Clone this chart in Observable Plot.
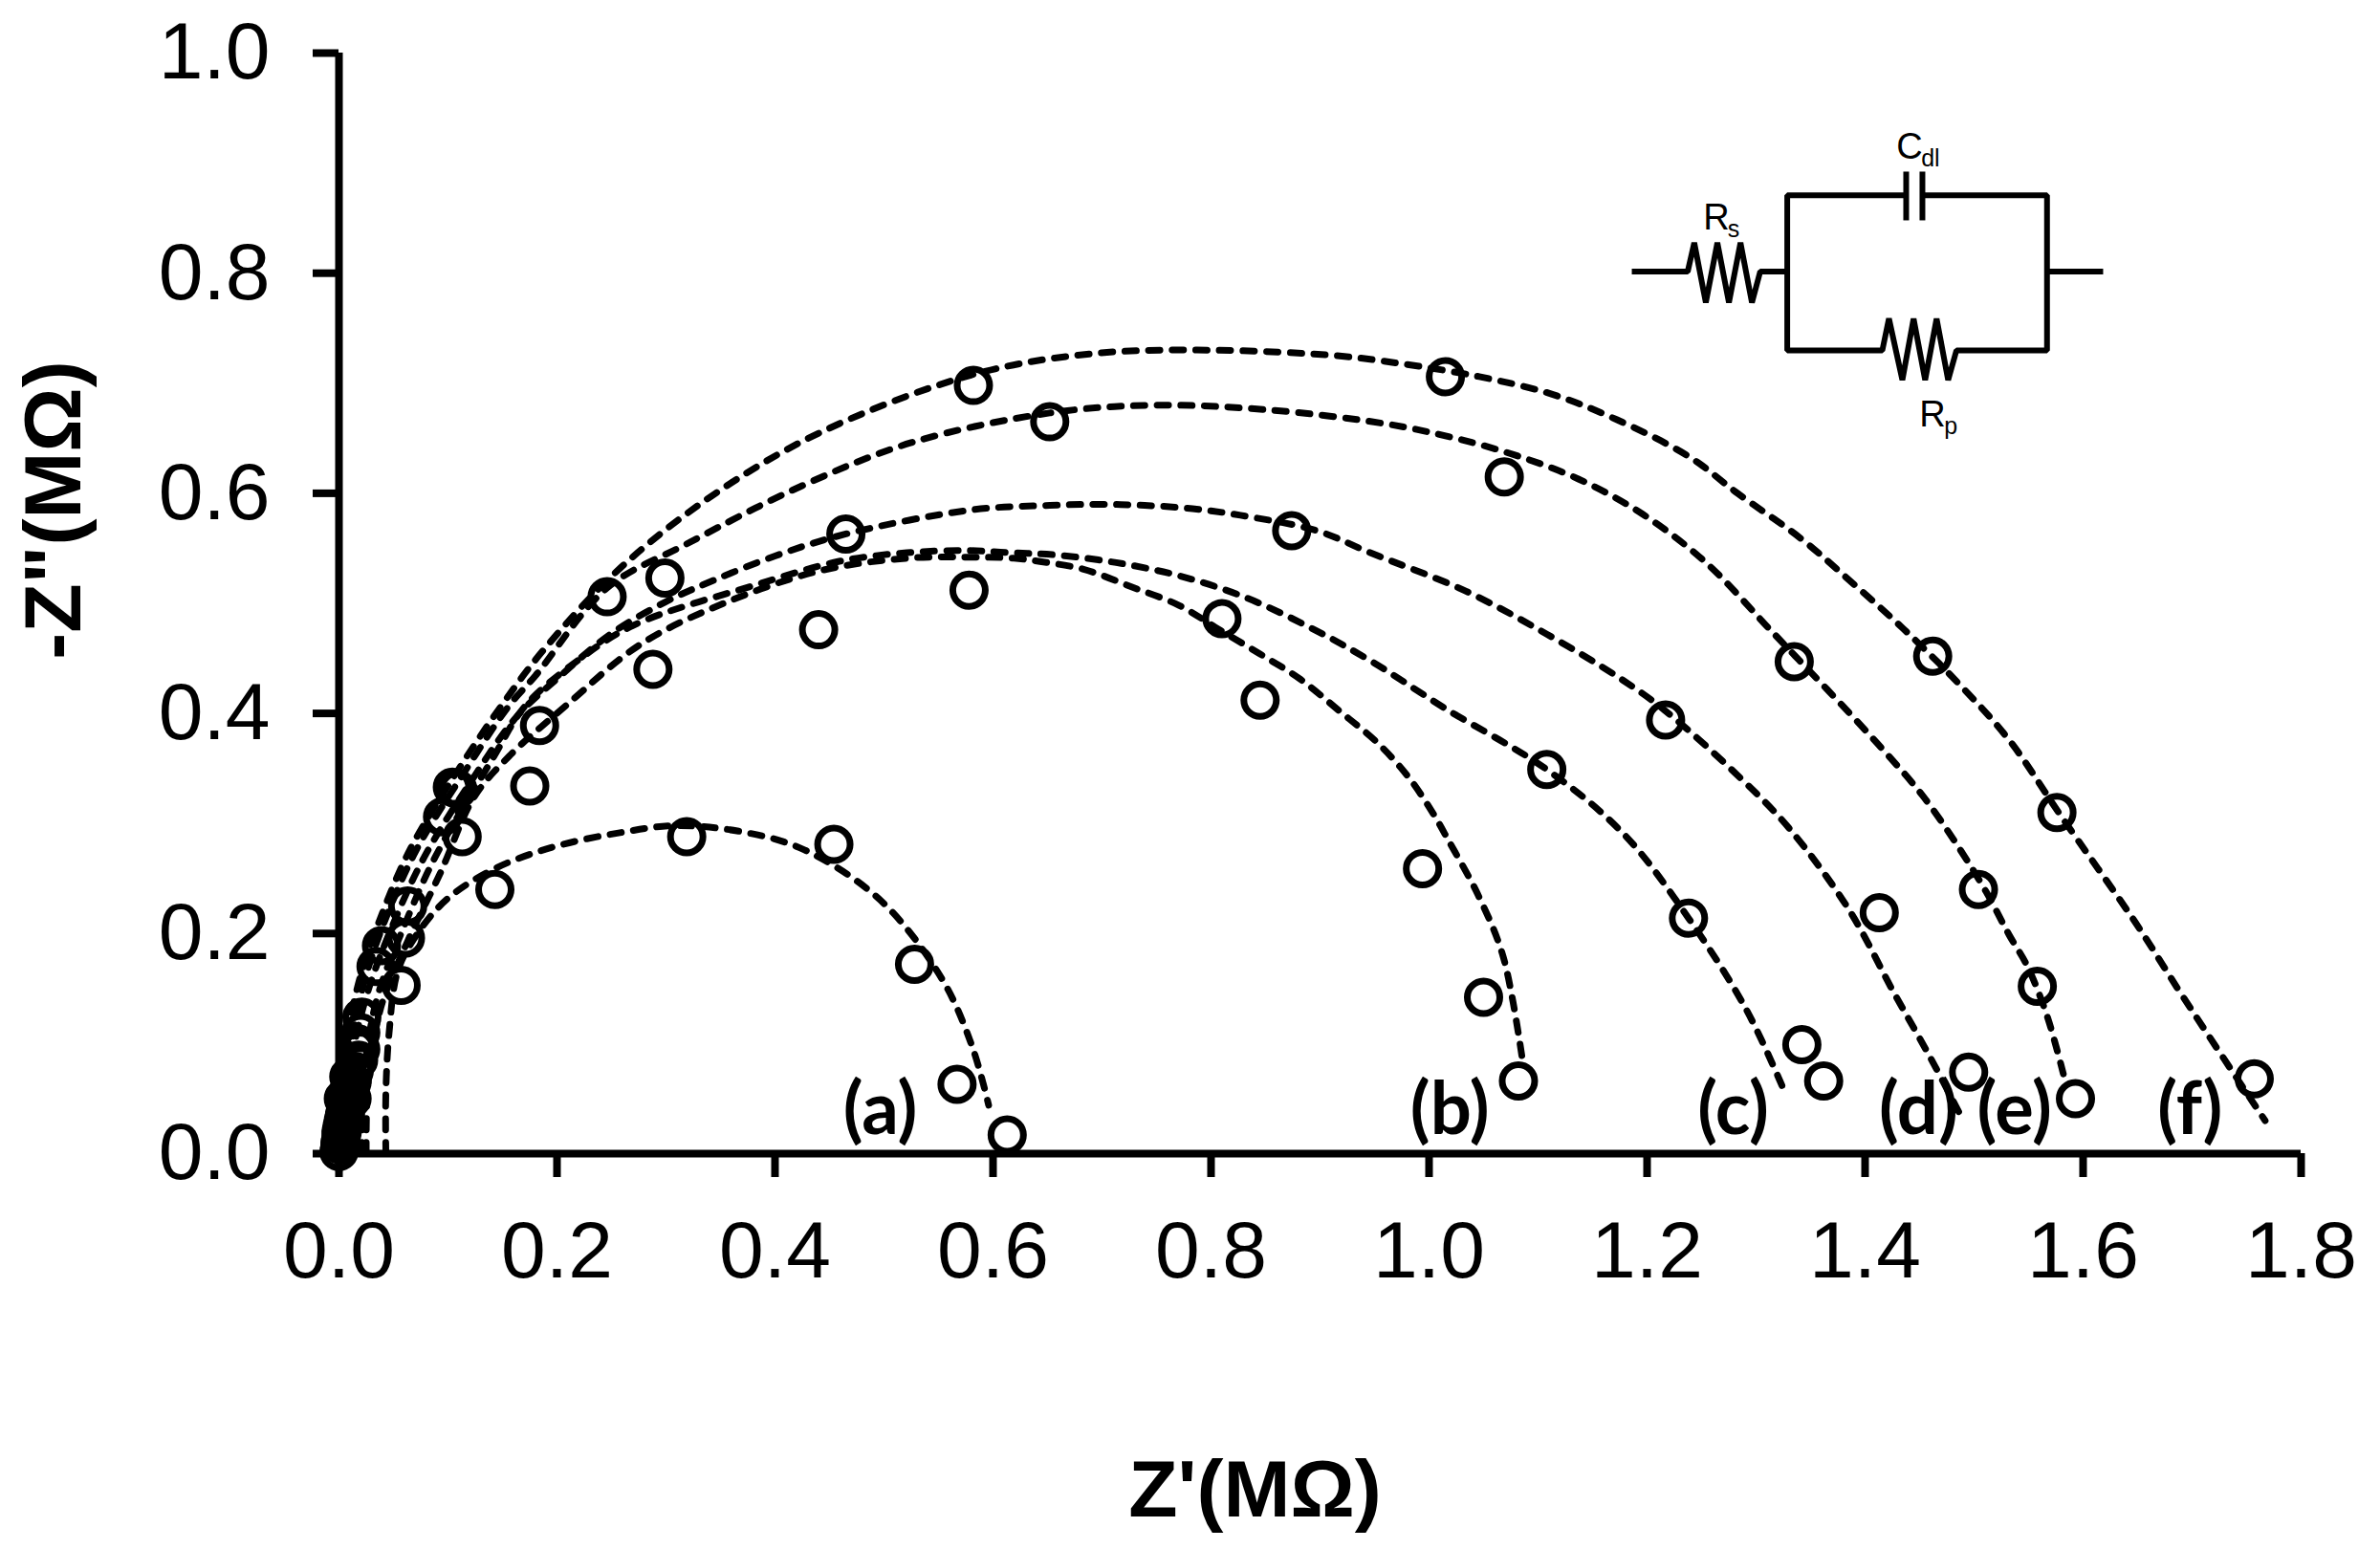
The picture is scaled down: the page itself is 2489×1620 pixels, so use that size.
<!DOCTYPE html>
<html>
<head>
<meta charset="utf-8">
<script src="https://cdn.jsdelivr.net/npm/d3@7"></script>
<script src="https://cdn.jsdelivr.net/npm/@observablehq/plot@0.6"></script>
<style>html,body{margin:0;padding:0;background:#fff}svg{display:block}</style>
</head>
<body>
<div id="chart"></div>
<script>
const xTicks = [0, 0.2, 0.4, 0.6, 0.8, 1.0, 1.2, 1.4, 1.6, 1.8];
const yTicks = [0, 0.2, 0.4, 0.6, 0.8, 1.0];

// Measured points, [Z', -Z''] in MΩ
const pointsA = [[0.613,0.017],[0.567,0.063],[0.528,0.172],[0.454,0.281],[0.319,0.288],[0.143,0.240],[0.057,0.153],[0.020,0.095],[0.010,0.060],[0.005,0.035],[0.002,0.018],[0.001,0.008],[0,0.002]];
const pointsB = [[1.082,0.066],[1.050,0.142],[0.994,0.259],[0.845,0.412],[0.578,0.512],[0.440,0.476],[0.288,0.440],[0.175,0.334],[0.113,0.288],[0.034,0.170],[0.016,0.096],[0.008,0.055],[0.004,0.030],[0.001,0.010]];
const pointsC = [[1.362,0.066],[1.342,0.099],[1.238,0.214],[1.108,0.349],[0.810,0.486],[0.465,0.563],[0.184,0.389],[0.061,0.196],[0.018,0.085],[0.012,0.050],[0.006,0.035],[0.002,0.014]];
const pointsD = [[1.495,0.074],[1.413,0.219],[1.217,0.394],[0.874,0.566],[0.299,0.523],[0.109,0.331],[0.039,0.189],[0.021,0.124],[0.014,0.075],[0.007,0.045],[0.003,0.020]];
const pointsE = [[1.593,0.050],[1.558,0.152],[1.504,0.240],[1.335,0.447],[1.069,0.615],[0.652,0.665],[0.246,0.506],[0.063,0.225],[0.017,0.100],[0.012,0.065],[0.006,0.040],[0.003,0.025]];
const pointsF = [[1.757,0.068],[1.576,0.310],[1.462,0.452],[1.015,0.706],[0.582,0.698],[0.104,0.333],[0.095,0.306],[0.020,0.110],[0.009,0.070],[0.004,0.050],[0.002,0.020]];

// Fitted curves, [Z', -Z''] in MΩ
const fitA = [[0.043,0],[0.043,0.055],[0.046,0.110],[0.054,0.166],[0.072,0.200],[0.100,0.232],[0.143,0.259],[0.198,0.279],[0.260,0.292],[0.309,0.298],[0.372,0.292],[0.427,0.276],[0.497,0.230],[0.553,0.159],[0.581,0.097],[0.596,0.044]];
const fitB = [[0.025,0],[0.026,0.055],[0.031,0.097],[0.040,0.138],[0.063,0.193],[0.093,0.255],[0.124,0.324],[0.156,0.361],[0.207,0.406],[0.277,0.463],[0.358,0.502],[0.443,0.530],[0.521,0.541],[0.575,0.542],[0.619,0.541],[0.643,0.538],[0.683,0.531],[0.727,0.515],[0.771,0.498],[0.806,0.477],[0.845,0.454],[0.882,0.431],[0.918,0.402],[0.953,0.373],[0.982,0.341],[1.005,0.307],[1.017,0.286],[1.045,0.235],[1.068,0.179],[1.086,0.083]];
const fitC = [[0.021,0],[0.022,0.055],[0.026,0.097],[0.036,0.145],[0.057,0.200],[0.088,0.269],[0.141,0.359],[0.171,0.407],[0.219,0.448],[0.270,0.480],[0.380,0.516],[0.458,0.538],[0.521,0.546],[0.575,0.548],[0.617,0.546],[0.657,0.544],[0.713,0.537],[0.771,0.525],[0.830,0.506],[0.889,0.479],[0.946,0.448],[1.014,0.405],[1.108,0.349],[1.179,0.290],[1.238,0.214],[1.291,0.131],[1.325,0.059]];
const fitD = [[0.004,0],[0.008,0.055],[0.015,0.103],[0.028,0.152],[0.049,0.207],[0.078,0.269],[0.121,0.338],[0.163,0.397],[0.203,0.434],[0.249,0.472],[0.299,0.501],[0.344,0.521],[0.400,0.543],[0.465,0.563],[0.581,0.585],[0.652,0.589],[0.696,0.590],[0.739,0.589],[0.783,0.586],[0.827,0.580],[0.897,0.566],[0.946,0.546],[1.034,0.511],[1.108,0.472],[1.175,0.432],[1.216,0.403],[1.287,0.340],[1.330,0.296],[1.385,0.222],[1.426,0.147],[1.460,0.087],[1.488,0.034]];
const fitE = [[0.001,0],[0.006,0.055],[0.013,0.110],[0.024,0.159],[0.043,0.214],[0.071,0.276],[0.114,0.345],[0.156,0.407],[0.180,0.434],[0.246,0.514],[0.319,0.554],[0.423,0.606],[0.525,0.646],[0.652,0.673],[0.748,0.680],[0.850,0.676],[0.961,0.663],[1.020,0.651],[1.078,0.635],[1.137,0.613],[1.196,0.581],[1.254,0.537],[1.312,0.477],[1.336,0.452],[1.365,0.422],[1.411,0.373],[1.453,0.325],[1.488,0.275],[1.511,0.238],[1.532,0.199],[1.549,0.170],[1.567,0.125],[1.582,0.072]];
const fitF = [[0,0],[0.001,0.055],[0.008,0.110],[0.021,0.166],[0.038,0.214],[0.065,0.276],[0.107,0.345],[0.149,0.407],[0.188,0.458],[0.258,0.532],[0.344,0.599],[0.441,0.655],[0.582,0.708],[0.692,0.727],[0.803,0.730],[0.915,0.725],[0.973,0.718],[1.046,0.706],[1.113,0.690],[1.172,0.667],[1.239,0.633],[1.283,0.600],[1.341,0.559],[1.389,0.518],[1.435,0.477],[1.485,0.428],[1.532,0.376],[1.581,0.305],[1.648,0.210],[1.692,0.142],[1.767,0.030]];

const seriesNames = ["(a)", "(b)", "(c)", "(d)", "(e)", "(f)"];
const seriesLabelX = [0.4965, 1.019, 1.279, 1.449, 1.537, 1.698];
const seriesLabelY = 0.0174;

// Equivalent-circuit inset, drawn in the chart's own units
const wires = [
  [[1.186,0.8015],[1.2373,0.8015],[1.2433,0.8276],[1.2539,0.7732],[1.2645,0.8276],[1.2751,0.7732],[1.2857,0.8276],[1.2962,0.7732],[1.3038,0.8015],[1.3286,0.8015]],
  [[1.4377,0.8707],[1.3286,0.8707],[1.3286,0.7298],[1.4158,0.7298],[1.4219,0.7587],[1.4342,0.7029],[1.4445,0.7587],[1.4551,0.7029],[1.4656,0.7587],[1.4762,0.7029],[1.4838,0.7298],[1.5669,0.7298],[1.5669,0.8707],[1.4526,0.8707]],
  [[1.4377,0.8923],[1.4377,0.8480]],
  [[1.4526,0.8923],[1.4526,0.8480]],
  [[1.5669,0.8015],[1.6184,0.8015]]
];
const circuitMain = [{x:1.2515,y:0.8393,t:"R"},{x:1.4287,y:0.9039,t:"C"},{x:1.4498,y:0.6603,t:"R"}];
const circuitSub = [{x:1.274,y:0.8326,t:"s"},{x:1.4515,y:0.8967,t:"dl"},{x:1.4726,y:0.6542,t:"p"}];

const sans = "'Liberation Sans', Arial, sans-serif";
const allPoints = [pointsA, pointsB, pointsC, pointsD, pointsE, pointsF];
const allFits = [fitA, fitB, fitC, fitD, fitE, fitF];

const chart = Plot.plot({
  width: 2489,
  height: 1620,
  marginLeft: 354,
  marginRight: 83,
  marginTop: 55,
  marginBottom: 414,
  style: {background: "#fff", color: "#000", fontFamily: sans, overflow: "visible"},
  x: {domain: [0, 1.8]},
  y: {domain: [0, 1]},
  marks: [
    ...allFits.map(f => Plot.line(f, {
      x: d => d[0], y: d => d[1], stroke: "#000", strokeWidth: 7,
      strokeDasharray: "12,12.7", strokeLinecap: "round", curve: "catmull-rom"
    })),
    ...allPoints.map(p => Plot.dot(p, {
      x: d => d[0], y: d => d[1], r: 17, stroke: "#000", strokeWidth: 7, fill: "none"
    })),
    Plot.ruleX([0], {y1: 0, y2: 1, stroke: "#000", strokeWidth: 8}),
    Plot.ruleY([0], {x1: 0, x2: 1.8, stroke: "#000", strokeWidth: 8}),
    Plot.axisX({ticks: xTicks, tickFormat: d3.format(".1f"), tickSize: 25, tickPadding: 45,
      strokeWidth: 8, strokeOpacity: 1, fontSize: 84, fill: "#000", stroke: "#000", label: null,
      textStroke: "none"}),
    Plot.axisY({ticks: yTicks, tickFormat: d3.format(".1f"), tickSize: 27, tickPadding: 45,
      strokeWidth: 8, strokeOpacity: 1, fontSize: 84, fill: "#000", stroke: "#000", label: null,
      textStroke: "none"}),
    Plot.text(["Z'(MΩ)"], {x: 0.8404, y: -0.3301, text: d => d, fontSize: 84, fontWeight: "bold",
      fontFamily: sans, lineAnchor: "bottom", textAnchor: "middle", fill: "#000"}),
    Plot.text(['-Z"(MΩ)'], {x: -0.2377, y: 0.5847, text: d => d, fontSize: 84, fontWeight: "bold",
      fontFamily: sans, rotate: -90, lineAnchor: "bottom", textAnchor: "middle", fill: "#000"}),
    Plot.text(seriesNames, {x: (d, i) => seriesLabelX[i], y: seriesLabelY, text: d => d,
      fontSize: 76, fontWeight: "bold", fontFamily: "Lato, 'Open Sans', sans-serif",
      lineAnchor: "bottom", textAnchor: "middle", fill: "#000"}),
    ...wires.map(w => Plot.line(w, {x: d => d[0], y: d => d[1], stroke: "#000", strokeWidth: 6,
      strokeLinejoin: "miter", strokeLinecap: "butt"})),
    Plot.text(circuitMain, {x: "x", y: "y", text: "t", fontSize: 38, fontFamily: sans,
      lineAnchor: "bottom", textAnchor: "start", fill: "#000"}),
    Plot.text(circuitSub, {x: "x", y: "y", text: "t", fontSize: 25, fontFamily: sans,
      lineAnchor: "bottom", textAnchor: "start", fill: "#000"})
  ]
});
document.getElementById("chart").appendChild(chart);
</script>
</body>
</html>
